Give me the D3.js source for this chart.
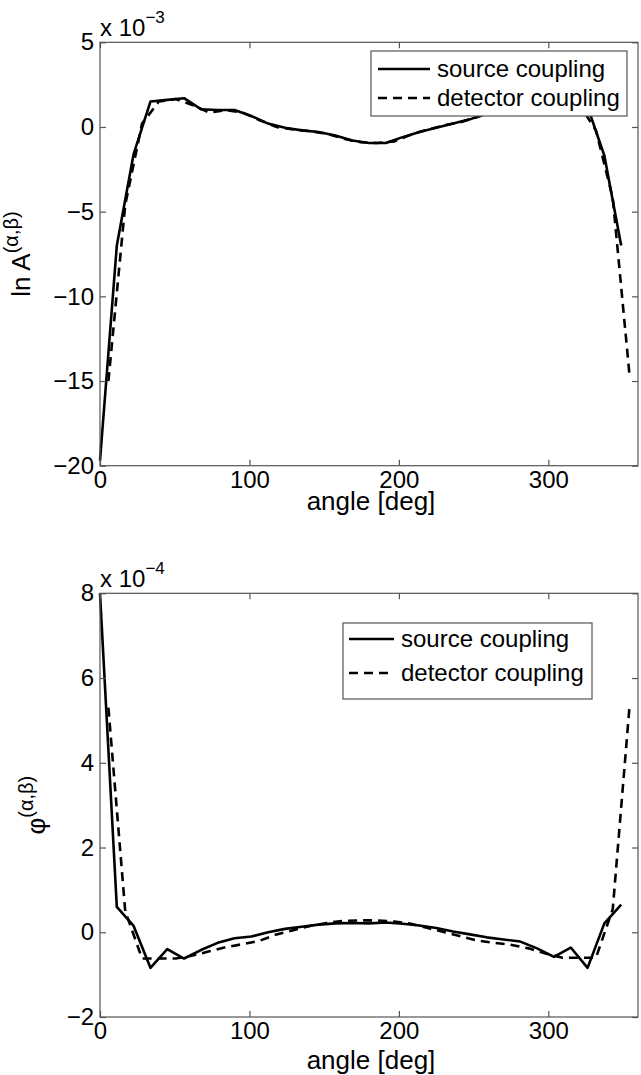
<!DOCTYPE html>
<html><head><meta charset="utf-8">
<script src="https://cdn.jsdelivr.net/npm/d3@7"></script>
<style>
html,body{margin:0;padding:0;background:#fff;}
svg text{font-family:"Liberation Sans",Arial,sans-serif;fill:#000;}
</style></head>
<body><svg id="c" width="641" height="1075"></svg>
<script>
// ---- data ----
const anglesSource = d3.range(32).map(i => i * 11.25);
const anglesDetector = d3.range(32).map(i => 5.625 + i * 11.25);

// top panel: ln A  (x 10^-3)
const lnASource = [-19.7,-7.0,-1.6,1.5,1.6,1.7,1.05,1.0,1.0,0.65,0.2,-0.05,-0.2,-0.3,-0.5,-0.8,
  -0.95,-0.95,-0.6,-0.3,-0.05,0.2,0.45,0.8,1.2,1.5,1.7,1.6,1.5,1.2,-1.7,-7.0];
const lnADetector = [-15.0,-4.6,0.2,1.5,1.65,1.3,0.85,1.0,0.85,0.4,0.0,-0.15,-0.25,-0.4,-0.7,-0.9,
  -0.95,-0.85,-0.45,-0.15,0.1,0.3,0.6,1.0,1.35,1.6,1.65,1.55,1.35,-0.2,-4.2,-14.7];

// bottom panel: phi  (x 10^-4)
const phiSource = [8.0,0.6,0.15,-0.84,-0.40,-0.62,-0.42,-0.25,-0.14,-0.10,0.0,0.08,0.13,0.18,0.21,0.22,
  0.21,0.23,0.20,0.16,0.10,0.02,-0.05,-0.12,-0.17,-0.22,-0.38,-0.58,-0.36,-0.84,0.21,0.65];
const phiDetector = [5.3,0.5,-0.62,-0.62,-0.62,-0.55,-0.45,-0.35,-0.28,-0.2,-0.05,0.05,0.15,0.22,0.27,0.28,
  0.28,0.25,0.2,0.1,0.0,-0.1,-0.2,-0.25,-0.3,-0.38,-0.5,-0.6,-0.6,-0.6,0.55,5.35];

const xTicks = [0,100,200,300];
const yTicksTop = [5,0,-5,-10,-15,-20];
const yTicksBottom = [8,6,4,2,0,-2];
const legendLabels = ["source coupling","detector coupling"];

// ---- drawing ----
const svg = d3.select("#c");
const FS = 24;

function panel(cfg){
  const g = svg.append("g");
  const x = d3.scaleLinear().domain([0,360]).range([cfg.left, cfg.right]);
  const y = d3.scaleLinear().domain(cfg.yDomain).range([cfg.bottom, cfg.top]);
  const fmt = d => (d < 0 ? "\u2212" + Math.abs(d) : String(d));

  const line = d3.line().x(d => x(d[0])).y(d => y(d[1]));
  g.append("path").datum(d3.zip(anglesSource, cfg.src))
    .attr("d", line).attr("fill","none").attr("stroke","#000").attr("stroke-width",2.6)
    .attr("stroke-linejoin","round");
  g.append("path").datum(d3.zip(anglesDetector, cfg.det))
    .attr("d", line).attr("fill","none").attr("stroke","#000").attr("stroke-width",2.6)
    .attr("stroke-dasharray","9,6");

  g.append("rect").attr("x",cfg.left).attr("y",cfg.top)
    .attr("width",cfg.right-cfg.left).attr("height",cfg.bottom-cfg.top)
    .attr("fill","none").attr("stroke","#555").attr("stroke-width",1.2);

  const styleAxis = sel => { sel.select(".domain").remove();
    sel.selectAll(".tick line").attr("stroke","#555").attr("stroke-width",1.2);
    sel.selectAll("text").attr("font-size",FS).attr("fill","#000")
      .style("font-family","'Liberation Sans',Arial,sans-serif"); };

  g.append("g").attr("transform",`translate(0,${cfg.bottom})`)
    .call(d3.axisBottom(x).tickValues(xTicks).tickSizeInner(-6).tickSizeOuter(0).tickPadding(5))
    .call(styleAxis);
  g.append("g").attr("transform",`translate(0,${cfg.top})`)
    .call(d3.axisTop(x).tickValues(xTicks).tickSizeInner(-6).tickSizeOuter(0).tickFormat(""))
    .call(styleAxis);
  g.append("g").attr("transform",`translate(${cfg.left},0)`)
    .call(d3.axisLeft(y).tickValues(cfg.yTicks).tickSizeInner(-6).tickSizeOuter(0).tickPadding(6).tickFormat(fmt))
    .call(styleAxis);
  g.append("g").attr("transform",`translate(${cfg.right},0)`)
    .call(d3.axisRight(y).tickValues(cfg.yTicks).tickSizeInner(-6).tickSizeOuter(0).tickFormat(""))
    .call(styleAxis);

  const ex = g.append("text").attr("x",cfg.left).attr("y",cfg.top-6).attr("font-size",FS);
  ex.append("tspan").text("x 10");
  ex.append("tspan").attr("dy",-13).attr("font-size",17).text(cfg.exp);

  g.append("text").attr("x",(cfg.left+cfg.right)/2 + 2).attr("y",cfg.xlabY)
    .attr("text-anchor","middle").attr("font-size",26).text("angle [deg]");

  const yl = g.append("text")
    .attr("transform",`translate(${cfg.ylabX},${(cfg.top+cfg.bottom)/2}) rotate(-90)`)
    .attr("text-anchor","middle").attr("font-size",26);
  yl.append("tspan").text(cfg.ylab);
  yl.append("tspan").attr("dy",-12).attr("font-size",20).text("(\u03b1,\u03b2)");

  const L = cfg.legend;
  const lg = g.append("g");
  lg.append("rect").attr("x",L.x0).attr("y",L.y0).attr("width",L.x1-L.x0).attr("height",L.y1-L.y0)
    .attr("fill","#fff").attr("stroke","#555").attr("stroke-width",1.2);
  legendLabels.forEach((lab,i) => {
    const yy = L.rows[i];
    lg.append("line").attr("x1",L.lx0).attr("x2",L.lx1).attr("y1",yy).attr("y2",yy)
      .attr("stroke","#000").attr("stroke-width",2.6)
      .attr("stroke-dasharray", i===1 ? "9,6" : null);
    lg.append("text").attr("x",L.tx).attr("y",yy).attr("dy","0.35em")
      .attr("font-size",FS).text(lab);
  });
}

panel({left:100,right:638,top:42.3,bottom:465.7,yDomain:[-20,5],yTicks:yTicksTop,
  src:lnASource,det:lnADetector,exp:"\u22123",xlabY:510,ylabX:30,ylab:"ln A",
  legend:{x0:371,x1:627,y0:51,y1:116,lx0:378,lx1:430,tx:437,rows:[69,98]}});

panel({left:100,right:638,top:593.3,bottom:1017,yDomain:[-2,8],yTicks:yTicksBottom,
  src:phiSource,det:phiDetector,exp:"\u22124",xlabY:1069,ylabX:45,ylab:"\u03c6",
  legend:{x0:343,x1:592,y0:623,y1:699,lx0:349,lx1:394,tx:401,rows:[639,673]}});
</script></body></html>
